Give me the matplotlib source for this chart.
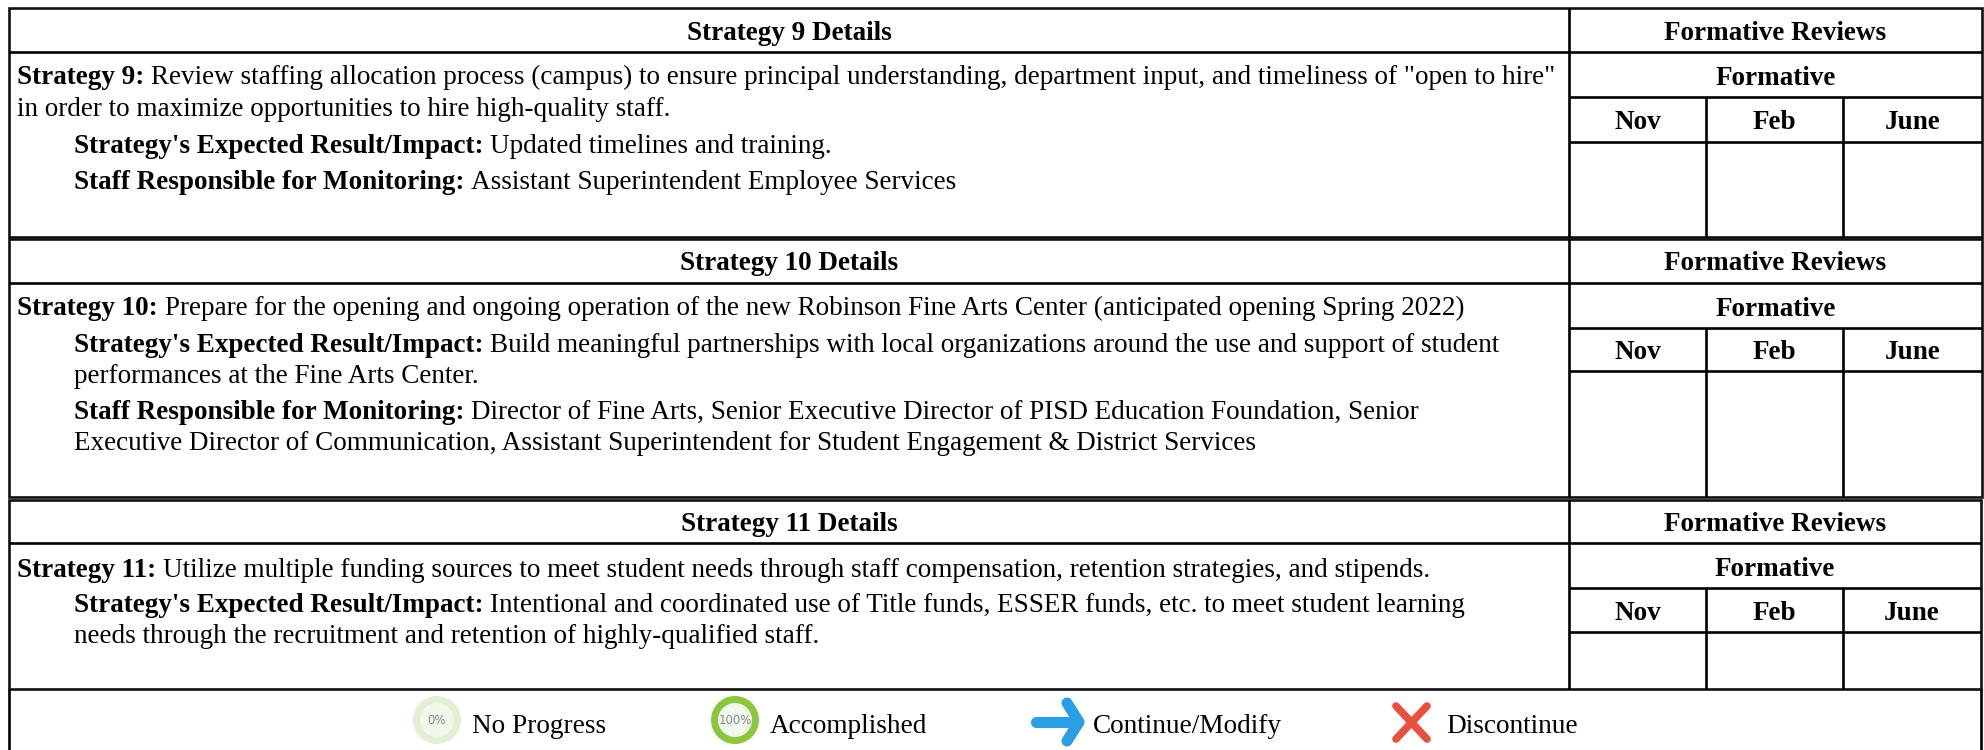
"""Strategy review tables with a progress legend, laid out in image pixels."""

import matplotlib
matplotlib.use("Agg")
import matplotlib.pyplot as plt
from matplotlib.patches import Circle, Rectangle

WIDTH, HEIGHT = 1984, 750
FONT = "Liberation Serif"
BODY_SIZE = 19.5
LEGEND_SIZE = 19.6

# table geometry: top, header, formative, month, bottom
table_rows = [
    [8, 52, 97, 142, 237],
    [239, 283, 328, 371, 497],
    [500, 543, 588, 632, 689],
]
table_left = [9, 9, 9]
table_right = [1982, 1982, 1981]
split_x = [1569, 1569, 1569]
month_x = [1706, 1843]

header_titles = ["Strategy 9 Details", "Strategy 10 Details", "Strategy 11 Details"]
header_baselines = [40, 270, 531]
review_title = "Formative Reviews"
formative_title = "Formative"
formative_baselines = [85, 316, 576]
month_names = ["Nov", "Feb", "June"]
month_baselines = [129, 359, 620]

# (x, baseline, bold part, regular part)
body_lines = [
    (17, 84, "Strategy 9:", 'Review staffing allocation process (campus) to ensure principal understanding, department input, and timeliness of "open to hire"'),
    (17, 116, "", "in order to maximize opportunities to hire high-quality staff."),
    (74, 153, "Strategy's Expected Result/Impact:", "Updated timelines and training."),
    (74, 189, "Staff Responsible for Monitoring:", "Assistant Superintendent Employee Services"),
    (17, 315, "Strategy 10:", "Prepare for the opening and ongoing operation of the new Robinson Fine Arts Center (anticipated opening Spring 2022)"),
    (74, 352, "Strategy's Expected Result/Impact:", "Build meaningful partnerships with local organizations around the use and support of student"),
    (74, 383, "", "performances at the Fine Arts Center."),
    (74, 419, "Staff Responsible for Monitoring:", "Director of Fine Arts, Senior Executive Director of PISD Education Foundation, Senior"),
    (74, 450, "", "Executive Director of Communication, Assistant Superintendent for Student Engagement & District Services"),
    (17, 577, "Strategy 11:", "Utilize multiple funding sources to meet student needs through staff compensation, retention strategies, and stipends."),
    (74, 612, "Strategy's Expected Result/Impact:", "Intentional and coordinated use of Title funds, ESSER funds, etc. to meet student learning"),
    (74, 643, "", "needs through the recruitment and retention of highly-qualified staff."),
]

legend_labels = ["No Progress", "Accomplished", "Continue/Modify", "Discontinue"]
legend_text_x = [472, 770, 1093, 1446]
legend_baseline = 733
circle_x = [437, 735]
circle_y = 720
circle_text = ["0%", "100%"]
circle_ring = ["#e3efd3", "#8cc63f"]
arrow_shaft_x = [1036, 1078]
arrow_head_x = [1067, 1079]
arrow_y = 722
arrow_spread = 19
cross_x = [1396, 1427]
cross_y = [706, 739]


def hline(ax, x0, x1, y, lw=1.9, color="black"):
    ax.plot([x0, x1], [y, y], color=color, lw=lw, solid_capstyle="butt")


def vline(ax, x, y0, y1, lw=1.9, color="black"):
    ax.plot([x, x], [y0, y1], color=color, lw=lw, solid_capstyle="butt")


def draw_table(ax, i):
    top, header, formative, month, bottom = table_rows[i]
    left, right, split = table_left[i], table_right[i], split_x[i]
    ax.add_patch(Rectangle((left, top), right - left, bottom - top, fill=False, ec="#111111", lw=1.9))
    hline(ax, left, right, header)
    vline(ax, split, top, bottom)
    hline(ax, split, right, formative)
    hline(ax, split, right, month)
    for x in month_x:
        vline(ax, x, formative, bottom)

    ax.text((left + split) / 2, header_baselines[i], header_titles[i], fontweight="bold",
            ha="center", va="baseline", fontsize=BODY_SIZE)
    mid = (split + right) / 2
    ax.text(mid, header_baselines[i], review_title, fontweight="bold", ha="center", va="baseline", fontsize=BODY_SIZE)
    ax.text(mid, formative_baselines[i], formative_title, fontweight="bold", ha="center", va="baseline", fontsize=BODY_SIZE)
    edges = [split] + month_x + [right]
    for k, name in enumerate(month_names):
        ax.text((edges[k] + edges[k + 1]) / 2, month_baselines[i], name, fontweight="bold",
                ha="center", va="baseline", fontsize=BODY_SIZE)


def draw_body(ax, renderer):
    # the regular run starts where the bold run ends
    for x, y, bold, regular in body_lines:
        if bold:
            t = ax.text(x, y, bold, fontweight="bold", va="baseline", fontsize=BODY_SIZE)
            x = ax.transData.inverted().transform((t.get_window_extent(renderer).x1, 0))[0] + 7
        ax.text(x, y, regular, va="baseline", fontsize=BODY_SIZE)


def draw_legend(ax):
    for x, label, ring in zip(circle_x, circle_text, circle_ring):
        ax.add_patch(Circle((x, circle_y), 24, color=ring, lw=0))
        ax.add_patch(Circle((x, circle_y), 17, color="#f2f7eb", lw=0))
        ax.text(x, circle_y, label, color="#7f8c8d", fontsize=8.5, family="DejaVu Sans",
                ha="center", va="center")

    blue = "#2b9fe6"
    ax.plot(arrow_shaft_x, [arrow_y, arrow_y], color=blue, lw=8, solid_capstyle="round")
    ax.plot([arrow_head_x[0], arrow_head_x[1], arrow_head_x[0]],
            [arrow_y - arrow_spread, arrow_y, arrow_y + arrow_spread],
            color=blue, lw=8, solid_capstyle="round", solid_joinstyle="round")

    red = "#e8503f"
    ax.plot(cross_x, cross_y, color=red, lw=5.5, solid_capstyle="round")
    ax.plot(cross_x, cross_y[::-1], color=red, lw=5.5, solid_capstyle="round")

    for x, label in zip(legend_text_x, legend_labels):
        ax.text(x, legend_baseline, label, va="baseline", fontsize=LEGEND_SIZE)


def main():
    plt.rcParams["font.family"] = [FONT, "DejaVu Serif"]
    fig = plt.figure(figsize=(WIDTH / 100, HEIGHT / 100), dpi=100)
    ax = fig.add_axes([0, 0, 1, 1])
    ax.set_xlim(0, WIDTH)
    ax.set_ylim(HEIGHT, 0)
    ax.axis("off")

    for i in range(len(table_rows)):
        draw_table(ax, i)
    # legend box runs off the bottom of the page
    vline(ax, table_left[2], table_rows[2][4], HEIGHT)
    vline(ax, table_right[2], table_rows[2][4], HEIGHT)

    fig.canvas.draw()
    draw_body(ax, fig.canvas.get_renderer())
    draw_legend(ax)
    fig.savefig("out.png", dpi=100, facecolor="white")


if __name__ == "__main__":
    main()
